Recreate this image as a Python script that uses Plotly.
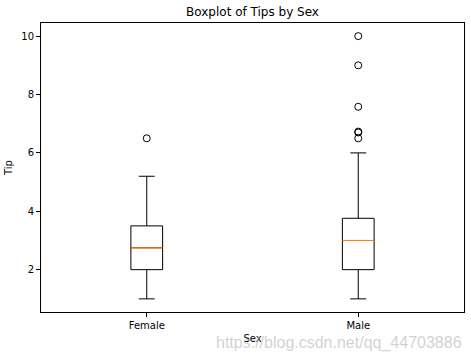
import plotly.graph_objects as go

categories = ["Female", "Male"]
q1 = [2.0, 2.0]
median = [2.75, 3.0]
q3 = [3.5, 3.76]
lower = [1.0, 1.0]
upper = [5.2, 6.0]
outliers = [[6.5], [6.5, 6.7, 6.73, 7.58, 9.0, 10.0]]
y_ticks = [2, 4, 6, 8, 10]

positions = list(range(1, len(categories) + 1))
box_w = 0.15

fig = go.Figure()
for i, pos in enumerate(positions):
    fig.add_trace(go.Box(
        x=[pos], q1=[q1[i]], median=[median[i]], q3=[q3[i]],
        lowerfence=[lower[i]], upperfence=[upper[i]],
        width=box_w, whiskerwidth=0.5,
        fillcolor="white", line=dict(color="black", width=1),
        boxpoints=False, showlegend=False, hoverinfo="skip",
    ))
    fig.add_trace(go.Scatter(
        x=[pos - box_w / 2, pos + box_w / 2], y=[median[i], median[i]],
        mode="lines", line=dict(color="#ff7f0e", width=1.2),
        showlegend=False, hoverinfo="skip",
    ))
    fig.add_trace(go.Scatter(
        x=[pos] * len(outliers[i]), y=outliers[i], mode="markers",
        marker=dict(symbol="circle-open", size=7, color="black", line=dict(width=1)),
        showlegend=False, hoverinfo="skip",
    ))

font = "DejaVu Sans, sans-serif"
fig.update_layout(
    width=471, height=353,
    margin=dict(l=41, r=7, t=23, b=41),
    paper_bgcolor="white", plot_bgcolor="white",
    font=dict(family=font, size=10, color="black"),
    title=dict(text="Boxplot of Tips by Sex", x=(41 + 464) / 2 / 471, xanchor="center",
               y=1 - 12 / 353, yanchor="middle", font=dict(size=12)),
    xaxis=dict(range=[0.5, 2.5], tickvals=positions, ticktext=categories,
               showgrid=False, zeroline=False, showline=True, mirror=True,
               linecolor="black", linewidth=1, ticks="outside", ticklen=4,
               tickcolor="black", title=dict(text="Sex", standoff=4, font=dict(size=10))),
    yaxis=dict(range=[0.55, 10.45], tickvals=y_ticks,
               showgrid=False, zeroline=False, showline=True, mirror=True,
               linecolor="black", linewidth=1, ticks="outside", ticklen=4,
               tickcolor="black", title=dict(text="Tip", standoff=6, font=dict(size=10))),
    annotations=[dict(text="https://blog.csdn.net/qq_44703886", xref="paper", yref="paper",
                      x=1.0, y=-0.07, xanchor="right", yanchor="top", showarrow=False,
                      font=dict(size=16, color="rgba(190,190,190,0.7)", family="Liberation Sans, Arial"))],
)

fig.write_html("out.html")
